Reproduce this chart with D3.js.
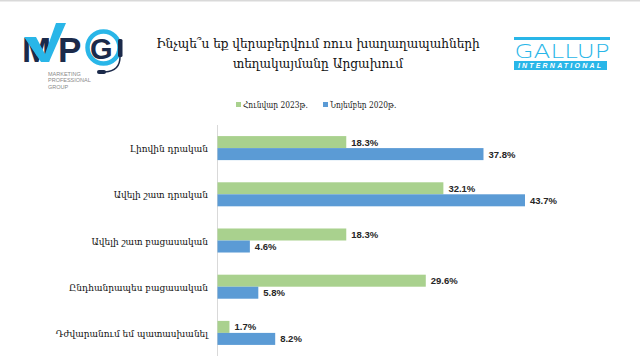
<!DOCTYPE html>
<html><head><meta charset="utf-8">
<script src="https://cdn.jsdelivr.net/npm/d3@7"></script>
<style>html,body{margin:0;padding:0;background:#fff;}svg{display:block;}</style>
</head><body>
<script>
const categories = ["Լիովին դրական","Ավելի շատ դրական","Ավելի շատ բացասական","Ընդհանրապես բացասական","Դժվարանում եմ պատասխանել"];
const seriesNames = ["Հունվար 2023թ.","Նոյեմբեր 2020թ."];
const jan2023 = [18.3, 32.1, 18.3, 29.6, 1.7];
const nov2020 = [37.8, 43.7, 4.6, 5.8, 8.2];
const titleLines = ["Ինչպե՞ս եք վերաբերվում ռուս խաղաղապահների","տեղակայմանը Արցախում"];
const colors = ["#A9D18E","#5B9BD5"];

const W=640,H=361;
const svg=d3.select("body").append("svg").attr("width",W).attr("height",H);
svg.append("rect").attr("width",W).attr("height",H).attr("fill","#fff");
svg.append("rect").attr("x",0).attr("y",0).attr("width",W).attr("height",1.5).attr("fill","#d9d9d9");

const armFont="'DejaVu Serif Condensed','DejaVu Serif',serif";
// title
svg.append("g").selectAll("text").data(titleLines).join("text")
  .attr("x",318).attr("y",(d,i)=>48+i*20).attr("text-anchor","middle")
  .attr("font-family",armFont).attr("font-size",13.5).attr("fill","#111").text(d=>d);

// legend
const leg=svg.append("g");
const legX=[236,323];
seriesNames.forEach((n,i)=>{
  leg.append("rect").attr("x",legX[i]).attr("y",102).attr("width",5).attr("height",5).attr("fill",colors[i]);
  leg.append("text").attr("x",legX[i]+7).attr("y",107.5).attr("font-family",armFont)
    .attr("font-size",8.3).attr("fill","#222").text(n);
});

// scales
const x=d3.scaleLinear().domain([0,43.7]).range([217.5,525]);
const y=d3.scaleBand().domain(categories).range([125,356]).paddingInner(0.48).paddingOuter(0.24);
const sub=d3.scaleBand().domain([0,1]).range([0,y.bandwidth()]);

svg.append("line").attr("x1",217.5).attr("x2",217.5).attr("y1",125).attr("y2",356)
  .attr("stroke","#d9d9d9").attr("stroke-width",1);

const series=[jan2023,nov2020];
const g=svg.append("g");
series.forEach((vals,si)=>{
  g.append("g").selectAll("rect").data(vals).join("rect")
    .attr("x",x(0)).attr("y",(d,i)=>y(categories[i])+sub(si))
    .attr("width",d=>x(d)-x(0)).attr("height",sub.bandwidth())
    .attr("fill",colors[si]);
  g.append("g").selectAll("text").data(vals).join("text")
    .attr("x",d=>x(d)+5).attr("y",(d,i)=>y(categories[i])+sub(si)+sub.bandwidth()/2+3.5)
    .attr("font-family","'Liberation Sans',Arial,sans-serif").attr("font-weight","bold")
    .attr("font-size",9.5).attr("fill","#262626").text(d=>d.toFixed(1)+"%");
});

// category labels
svg.append("g").selectAll("text").data(categories).join("text")
  .attr("x",208).attr("y",d=>y(d)+y.bandwidth()/2+4).attr("text-anchor","end")
  .attr("font-family",armFont).attr("font-size",10).attr("fill","#111").text(d=>d);

// MPG logo
const mpg=svg.append("g");
const lf="'Liberation Sans',Arial,sans-serif";
mpg.append("circle").attr("cx",103.5).attr("cy",47.5).attr("r",16).attr("fill","none").attr("stroke","#29B6E8").attr("stroke-width",4.5);
mpg.append("rect").attr("x",118).attr("y",39).attr("width",4.5).attr("height",18).attr("rx",1.5).attr("fill","#1B2A4A");
mpg.append("path").attr("d","M120,57 Q120,71 105,72").attr("fill","none").attr("stroke","#1B2A4A").attr("stroke-width",1.5);
mpg.append("rect").attr("x",97).attr("y",70).attr("width",9).attr("height",4).attr("rx",2).attr("fill","#1B2A4A");
mpg.append("text").attr("x",22).attr("y",62).attr("font-family",lf).attr("font-weight","bold").attr("font-size",35).attr("fill","#1B2A4A").text("M");
mpg.append("text").attr("x",58).attr("y",62).attr("font-family",lf).attr("font-weight","bold").attr("font-size",35).attr("fill","#1B2A4A").text("P");
mpg.append("text").attr("x",90).attr("y",59).attr("font-family",lf).attr("font-weight","bold").attr("font-size",29).attr("fill","#1B2A4A").text("G");
mpg.append("path").attr("d","M24,37 L36,37 L45,54 L56,23 L66,23 L49,62 L41,62 Z").attr("fill","#29B6E8");
["MARKETING","PROFESSIONAL","GROUP"].forEach((t,i)=>{
  mpg.append("text").attr("x",48).attr("y",75.5+i*6.8).attr("font-family",lf)
    .attr("font-size",5.5).attr("fill","#8a8a8a").text(t);
});

// Gallup logo
const gl=svg.append("g");
gl.append("rect").attr("x",514).attr("y",37).attr("width",96).attr("height",3).attr("fill","#29B6E8");
gl.append("text").attr("x",562).attr("y",58).attr("text-anchor","middle").attr("font-family","'DejaVu Sans',sans-serif")
  .attr("font-weight","200").attr("font-size",19).attr("textLength",95).attr("lengthAdjust","spacingAndGlyphs")
  .attr("fill","#29B6E8").text("GALLUP");
gl.append("rect").attr("x",514).attr("y",61).attr("width",93).attr("height",9).attr("fill","#29B6E8");
gl.append("text").attr("x",560.5).attr("y",68).attr("text-anchor","middle").attr("font-family",lf)
  .attr("font-weight","bold").attr("font-style","italic").attr("font-size",7).attr("letter-spacing",2.2)
  .attr("fill","#fff").text("INTERNATIONAL");
</script>
</body></html>
